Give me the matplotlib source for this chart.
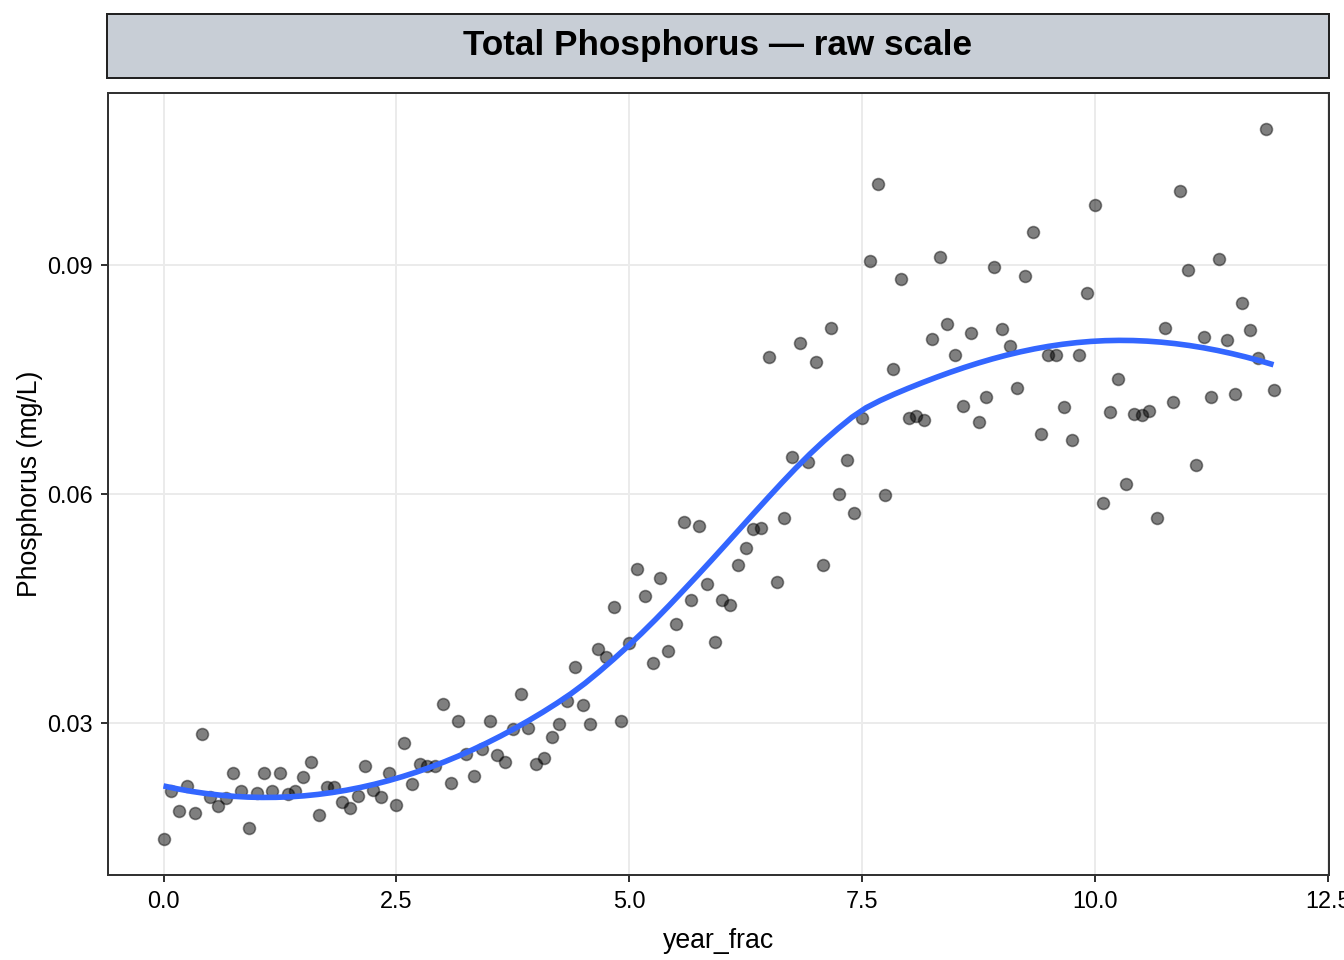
import numpy as np
import matplotlib.pyplot as plt
from matplotlib.patches import Rectangle

plt.rcParams['font.family'] = ['Liberation Sans', 'DejaVu Sans']

# monthly samples, 12 years
year_frac = np.arange(144) / 12.0

phosphorus = [
    # year 0
    0.01482, 0.02122, 0.01848, 0.02187, 0.01822, 0.02867, 0.02031, 0.01926, 0.02018, 0.02357, 0.02122, 0.01626,
    # year 1
    0.02096, 0.02357, 0.02122, 0.02357, 0.02083, 0.02122, 0.02305, 0.02501, 0.01796, 0.02174, 0.02174, 0.01978,
    # year 2
    0.01900, 0.02044, 0.02449, 0.02135, 0.02031, 0.02357, 0.01939, 0.02749, 0.02214, 0.02475, 0.02449, 0.02449,
    # year 3
    0.03259, 0.02227, 0.03037, 0.02605, 0.02318, 0.02671, 0.03037, 0.02592, 0.02501, 0.02932, 0.03389, 0.02945,
    # year 4
    0.02475, 0.02553, 0.02828, 0.02997, 0.03298, 0.03742, 0.03246, 0.02997, 0.03977, 0.03873, 0.04526, 0.03037,
    # year 5
    0.04055, 0.05022, 0.04669, 0.03794, 0.04905, 0.03951, 0.04304, 0.05636, 0.04617, 0.05584, 0.04826, 0.04069,
    # year 6
    0.04617, 0.04552, 0.05074, 0.05296, 0.05545, 0.05558, 0.07792, 0.04852, 0.05688, 0.06485, 0.07974, 0.06420,
    # year 7
    0.07726, 0.05074, 0.08170, 0.06002, 0.06446, 0.05754, 0.06995, 0.09046, 0.10051, 0.05989, 0.07635, 0.08810,
    # year 8
    0.06995, 0.07021, 0.06969, 0.08027, 0.09098, 0.08223, 0.07818, 0.07151, 0.08105, 0.06942, 0.07269, 0.08967,
    # year 9
    0.08157, 0.07935, 0.07387, 0.08850, 0.09424, 0.06786, 0.07818, 0.07818, 0.07138, 0.06707, 0.07818, 0.08628,
    # year 10
    0.09777, 0.05884, 0.07073, 0.07504, 0.06133, 0.07047, 0.07034, 0.07086, 0.05688, 0.08170, 0.07204, 0.09960,
    # year 11
    0.08928, 0.06381, 0.08053, 0.07269, 0.09072, 0.08014, 0.07308, 0.08497, 0.08144, 0.07778, 0.10783, 0.07360,
]
phosphorus = np.array(phosphorus)

x_ticks = [0.0, 2.5, 5.0, 7.5, 10.0, 12.5]
y_ticks = [0.03, 0.06, 0.09]


# loess smoother (local quadratic, tricube weights, span 0.75) like geom_smooth
def loess(x, y, xout, span=0.75):
    n = len(x)
    q = int(np.floor(n * span))
    fit = []
    for x0 in xout:
        d = np.abs(x - x0)
        dmax = np.sort(d)[q - 1]
        w = np.clip(1 - (d / dmax) ** 3, 0, None) ** 3
        X = np.column_stack([np.ones(n), x - x0, (x - x0) ** 2])
        W = np.sqrt(w)
        beta = np.linalg.lstsq(X * W[:, None], y * W, rcond=None)[0]
        fit.append(beta[0])
    return np.array(fit)


x_grid = np.linspace(year_frac.min(), year_frac.max(), 80)
y_smooth = loess(year_frac, phosphorus, x_grid)

fig = plt.figure(figsize=(7, 5), dpi=192)
ax = fig.add_axes([108/1344, 1 - 875/960, (1329-108)/1344, (875-93)/960])

ax.scatter(year_frac, phosphorus, s=20, facecolor=(0, 0, 0, 0.5),
           edgecolor=(0, 0, 0, 0.45), linewidth=0.6, zorder=3)
ax.plot(x_grid, y_smooth, color='#3366FF', linewidth=2.1, zorder=4,
        solid_capstyle='butt')

# ggplot style expansion
xr = year_frac.max() - year_frac.min()
yr = phosphorus.max() - phosphorus.min()
ax.set_xlim(year_frac.min() - 0.05 * xr, year_frac.max() + 0.05 * xr)
ax.set_ylim(phosphorus.min() - 0.05 * yr, phosphorus.max() + 0.05 * yr)

ax.set_xticks(x_ticks)
ax.set_xticklabels([f"{t:.1f}" for t in x_ticks])
ax.set_yticks(y_ticks)
ax.set_yticklabels([f"{t:.2f}" for t in y_ticks])
ax.grid(True, color='#EBEBEB', linewidth=0.75, zorder=0)
ax.set_axisbelow(True)
for sp in ax.spines.values():
    sp.set_color('#333333')
    sp.set_linewidth(0.75)
ax.tick_params(length=2.75, width=0.75, color='#333333', labelsize=8.8,
               labelcolor='black', pad=3)
for lbl in ax.get_xticklabels():
    lbl.set_clip_on(False)

ax.set_xlabel("year_frac", fontsize=10, labelpad=5.5)
ax.set_ylabel("Phosphorus (mg/L)", fontsize=10, labelpad=1.5)

# facet strip
strip = Rectangle((107/1344, 1 - 78/960), (1329-107)/1344, 64/960,
                  transform=fig.transFigure, facecolor='#C8CED6',
                  edgecolor='#222222', linewidth=0.75)
fig.patches.append(strip)
fig.text((107 + 1329) / 2 / 1344, 1 - 45/960, "Total Phosphorus — raw scale",
         ha='center', va='center', fontsize=13.2, fontweight='bold')

plt.savefig("out.png", dpi=192)
